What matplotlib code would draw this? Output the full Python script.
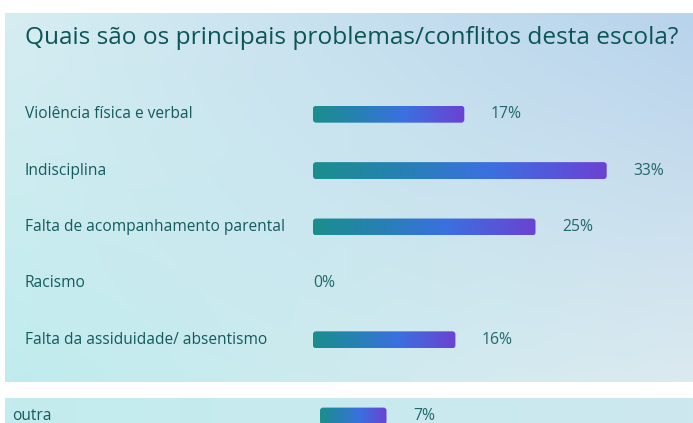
import numpy as np
import matplotlib.pyplot as plt
from matplotlib.colors import LinearSegmentedColormap
from matplotlib.patches import FancyBboxPatch
from matplotlib import transforms

plt.rcParams['font.family'] = ['Open Sans', 'DejaVu Sans']

title = 'Quais são os principais problemas/conflitos desta escola?'
categories = ['Violência física e verbal', 'Indisciplina',
              'Falta de acompanhamento parental', 'Racismo',
              'Falta da assiduidade/ absentismo']
values = [17, 33, 25, 0, 16]
extra_categories = ['outra']
extra_values = [7]

W, H = 693, 423
fig = plt.figure(figsize=(W / 100, H / 100), dpi=100)
fig.patch.set_facecolor('white')

bar_cmap = LinearSegmentedColormap.from_list(
    'bar', [(0, '#1b8e8c'), (0.3, '#2781b4'), (0.6, '#3b70e0'), (1, '#6b42d2')])


def px(x0, y0, x1, y1):
    # pixel box (origin top-left) -> figure fraction rect
    return [x0 / W, 1 - y1 / H, (x1 - x0) / W, (y1 - y0) / H]


def panel(rect, tl, tr, bl, br):
    a = fig.add_axes(rect, zorder=0)
    t = np.linspace(0, 1, 64)
    u, v = np.meshgrid(t, t)
    c = [np.array(col) / 255 for col in (tl, tr, bl, br)]
    img = (((1 - u) * (1 - v))[..., None] * c[0] + (u * (1 - v))[..., None] * c[1]
           + ((1 - u) * v)[..., None] * c[2] + (u * v)[..., None] * c[3])
    a.imshow(img, aspect='auto', extent=[0, 1, 0, 1], interpolation='bilinear')
    a.set_axis_off()


def draw_bars(ax, cats, vals, px_per_unit, label_x):
    ys = np.arange(len(cats))
    h = 0.3
    bars = ax.barh(ys, vals, height=h, color='none')
    xu = 1 / px_per_unit
    yu = 1 / 56.4
    r = 3 * xu
    for bar, y, v in zip(bars, ys, vals):
        if v > 0:
            x0, y0 = bar.get_x(), bar.get_y()
            w, bh = bar.get_width(), bar.get_height()
            patch = FancyBboxPatch((x0, y0), w, bh,
                                   boxstyle=f'round,pad=0,rounding_size={r}',
                                   mutation_aspect=yu / xu,
                                   facecolor='none', edgecolor='none')
            ax.add_patch(patch)
            grad = np.linspace(0, 1, 256)[None, :]
            im = ax.imshow(grad, extent=[x0, x0 + w, y0 + bh, y0], cmap=bar_cmap,
                           aspect='auto', zorder=2, interpolation='bilinear')
            im.set_clip_path(patch)
        ax.annotate(f'{v}%', xy=(v, y), xytext=(19 if v else 0, 0),
                    textcoords='offset points', va='center', ha='left',
                    fontsize=11.3, fontweight='medium', color='#22686b')
    trans = transforms.blended_transform_factory(fig.transFigure, ax.transData)
    for y, cat in zip(ys, cats):
        ax.text(label_x / W, y, cat, transform=trans, va='center', ha='left',
                fontsize=11.2, fontweight='medium', color='#165a5c')


# panel backgrounds
panel(px(5, 13, W, 382), (214, 237, 242), (184, 211, 236), (192, 236, 238), (219, 234, 240))
panel(px(5, 398, W, H), (195, 236, 238), (205, 232, 238), (195, 236, 238), (205, 232, 238))

fig.text(25 / W, 1 - 38 / H, title, va='center', ha='left', fontsize=17.6,
         fontweight='medium', color='#0c5557')

scale = 8.9
ax = fig.add_axes(px(313, 86, W, 368), zorder=1)
ax.patch.set_alpha(0)
draw_bars(ax, categories, values, scale, 25)
ax.set_xlim(0, (W - 313) / scale)
ax.set_ylim(4.5, -0.5)
ax.set_axis_off()

ax2 = fig.add_axes(px(320, 388, W, 444), zorder=1)
ax2.patch.set_alpha(0)
draw_bars(ax2, extra_categories, extra_values, 9.5, 12)
ax2.set_xlim(0, (W - 320) / 9.5)
ax2.set_ylim(0.5, -0.5)
ax2.set_axis_off()

fig.savefig('out.png', dpi=100)
